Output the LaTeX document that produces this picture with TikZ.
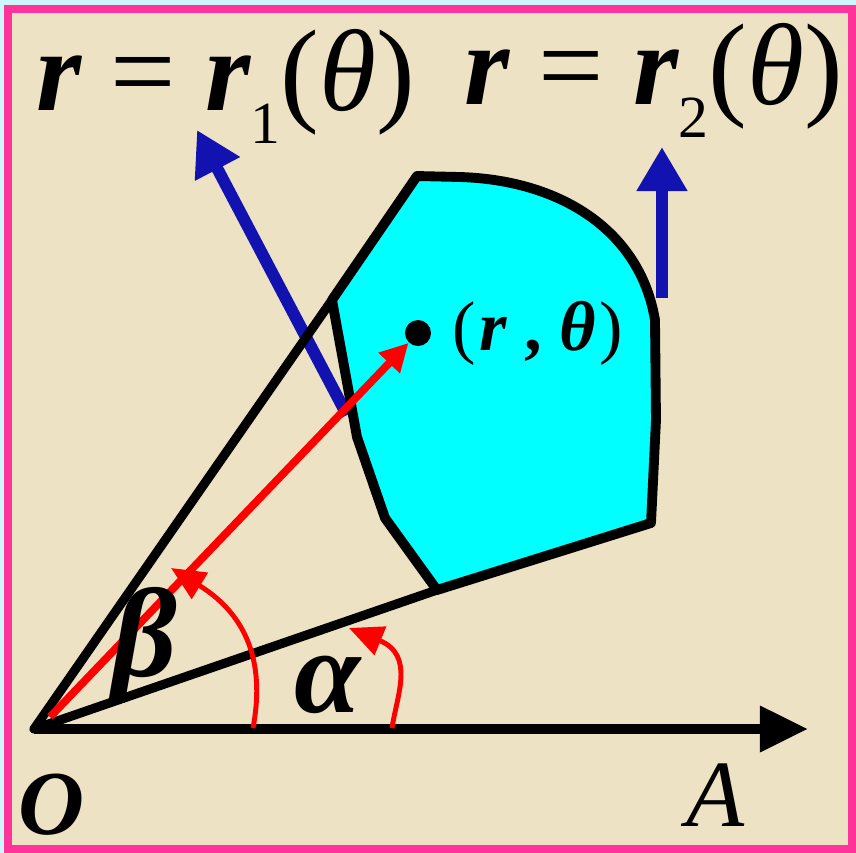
\documentclass[tikz,border=0pt]{standalone}
\usepackage{fontspec}
\setmainfont{Liberation Serif}
\usepackage{tikz}
\usetikzlibrary{arrows.meta,positioning,calc}
\definecolor{outside}{HTML}{CCF6FA}
\definecolor{framepink}{HTML}{FF3399}
\definecolor{paper}{HTML}{EDE3C4}
\definecolor{regioncyan}{HTML}{00FFFF}
\definecolor{vecred}{HTML}{FF0000}
\definecolor{blueink}{HTML}{1212B0}
\newcommand{\rvar}{{\bfseries\itshape r}}
\newcommand{\lowsub}[1]{\raisebox{-0.33cm}{\fontsize{17}{17}\selectfont #1}}

\begin{document}
\begin{tikzpicture}[x=0.01cm,y=-0.01cm,
  region/.style={fill=regioncyan,draw=black,line width=2.8pt,line join=round},
  ray/.style={draw=black,line width=2.6pt,line cap=round},
  polaraxis/.style={draw=black,line width=2.8pt,-{Triangle[length=0.48cm,width=0.44cm]}},
  vec/.style={draw=vecred,line width=2.2pt,-{Triangle[length=0.28cm,width=0.28cm]}},
  anglearc/.style={draw=vecred,line width=1.4pt,-{Triangle[length=0.34cm,width=0.3cm]}},
  normalarr/.style={draw=blueink,line width=3.4pt,-{Triangle[length=0.44cm,width=0.48cm]}},
  pointdot/.style={circle,fill=black,minimum size=0.26cm,inner sep=0pt},
  lbl/.style={inner sep=0pt,font=\fontsize{33}{38}\selectfont,text=black},
  ptlbl/.style={inner sep=0pt,font=\fontsize{20}{24}\selectfont,text=black},
]
  \useasboundingbox (0,0) rectangle (856,853);
  \fill[outside] (0,0) rectangle (856,853);
  \draw[draw=framepink,line width=0.08cm,fill=paper] (8,9) rectangle (852,849);

  \coordinate (O) at (34,729);
  \coordinate (Aend) at (808,729);
  \coordinate (U) at (332,300);
  \coordinate (L) at (437,590);
  \coordinate (R) at (651,523);
  \coordinate (n1s) at (347,415);
  \coordinate (n1e) at (197,130);
  \coordinate (n2s) at (662,298);
  \coordinate (n2e) at (662,147);

  \draw[normalarr] (n1s) -- (n1e);
  \draw[normalarr] (n2s) -- (n2e);
  \draw[region] (U) -- (417,176) -- (460,177) .. controls (560,180) and (640,230) .. (655,320)
    -- (656,420) -- (R) -- (L) -- (385,518) -- (357,437) -- cycle;
  \draw[polaraxis] (O) -- (Aend);
  \draw[ray] (O) -- (U);
  \draw[ray] (O) -- (L);

  \coordinate (ab) at (392,728);
  \coordinate (aa) at (349,628);
  \coordinate (bb) at (253,728);
  \coordinate (ba) at (171,568);
  \draw[anglearc] (ab) .. controls (397,695) and (415,655) .. (aa);
  \draw[anglearc] (bb) .. controls (264,670) and (252,618) .. (ba);

  \node[pointdot] (P) at (418,333) {};
  \coordinate (vs) at (50,717);
  \draw[vec] (vs) -- (P);
  \node[ptlbl,right=0.2cm of P] (Plbl) {(\hspace{1pt}\rvar\hspace{5pt}{\bfseries,}\hspace{5pt}{\bfseries\itshape θ}\hspace{1pt})};

  \node[lbl,anchor=base west] (r1) at (36,110) {\rvar{} = \rvar\lowsub{1}(\textit{θ})};
  \node[lbl,anchor=base west] (r2) at (464,104) {\rvar{} = \rvar\lowsub{2}(\textit{θ})};
  \node[lbl,font=\fontsize{36}{40}\selectfont] (beta) at (145,645) {\bfseries\itshape β};
  \node[lbl,font=\fontsize{34}{40}\selectfont] (alpha) at (328,685) {\bfseries\itshape α};
  \node[lbl,font=\fontsize{26}{30}\selectfont] (Olbl) at (52,805) {\bfseries\itshape O};
  \node[lbl,font=\fontsize{27}{30}\selectfont] (Albl) at (716,795) {\itshape A};
\end{tikzpicture}
\end{document}
